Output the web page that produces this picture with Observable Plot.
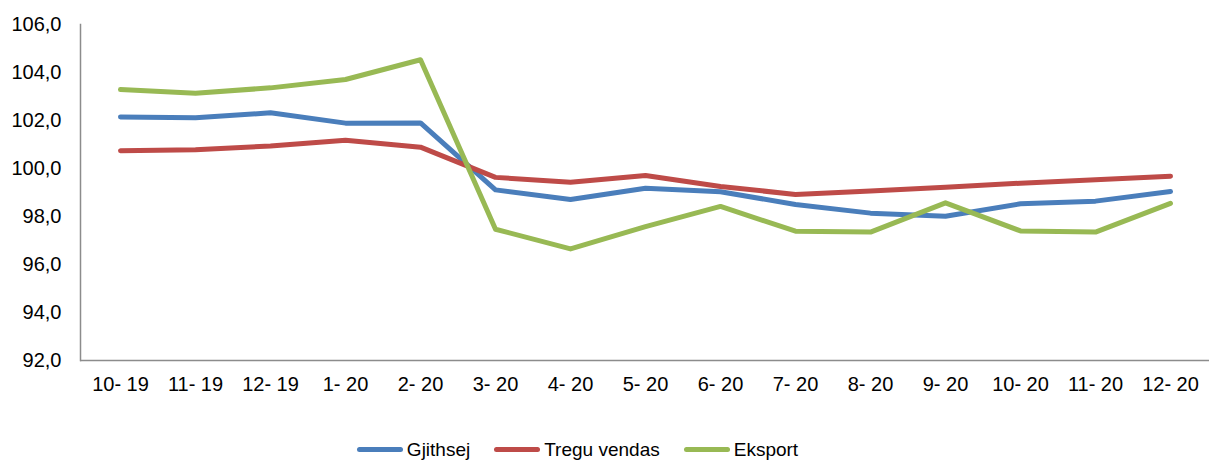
<!DOCTYPE html>
<html>
<head>
<meta charset="utf-8">
<script src="https://cdn.jsdelivr.net/npm/d3@7"></script>
<script src="https://cdn.jsdelivr.net/npm/@observablehq/plot@0.6"></script>
<style>
  html, body { margin: 0; padding: 0; background: #fff; }
  body { width: 1209px; height: 461px; overflow: hidden; font-family: "Liberation Sans", Arial, sans-serif; }
  #legend { display: flex; justify-content: center; align-items: center; height: 31px; margin-top: 4px; font-size: 19px; color: #000; padding-right: 54px; }
  .item { display: flex; align-items: center; margin: 0 12px; }
  .sw { width: 46px; height: 5px; border-radius: 3px; margin-right: 4px; }
</style>
</head>
<body>
<div id="chart"></div>
<div id="legend"></div>
<script>
const categories = ["10- 19","11- 19","12- 19","1- 20","2- 20","3- 20","4- 20","5- 20","6- 20","7- 20","8- 20","9- 20","10- 20","11- 20","12- 20"];
const seriesNames = ["Gjithsej", "Tregu vendas", "Eksport"];
const gjithsej = [102.15,102.11,102.32,101.89,101.90,99.11,98.71,99.18,99.03,98.50,98.14,98.01,98.53,98.64,99.04];
const treguVendas = [100.74,100.78,100.94,101.18,100.89,99.63,99.43,99.71,99.25,98.92,99.06,99.22,99.39,99.53,99.68];
const eksport = [103.29,103.14,103.36,103.71,104.53,97.47,96.65,97.58,98.42,97.39,97.35,98.57,97.40,97.35,98.55];
const yTicks = [92,94,96,98,100,102,104,106];
const colors = ["#4a7ebb", "#be4b48", "#98b954"];

const seriesValues = [gjithsej, treguVendas, eksport];
const data = [];
seriesNames.forEach((s, i) => categories.forEach((c, j) => data.push({series: s, cat: c, value: seriesValues[i][j]})));

const fmt = d => d3.format(".1f")(d).replace(".", ",");

const chart = Plot.plot({
  width: 1209,
  height: 430,
  marginLeft: 80,
  marginRight: 0,
  marginTop: 24,
  marginBottom: 70,
  style: {fontFamily: '"Liberation Sans", Arial, sans-serif', fontSize: "20px", color: "#000", background: "#fff"},
  x: {type: "point", domain: categories, padding: 0.5, label: null},
  y: {domain: [92, 106], ticks: yTicks, label: null},
  color: {domain: seriesNames, range: colors},
  marks: [
    Plot.ruleY([92], {stroke: "#8c8c8c", strokeWidth: 1.5}),
    Plot.frame({anchor: "left", stroke: "#8c8c8c", strokeWidth: 1.5}),
    Plot.axisY({ticks: yTicks, tickFormat: fmt, tickSize: 0, tickPadding: 19, fill: "#000"}),
    Plot.axisX({tickSize: 0, tickPadding: 16, fill: "#000"}),
    Plot.lineY(data, {x: "cat", y: "value", z: "series", stroke: "series", strokeWidth: 5, strokeLinecap: "round", strokeLinejoin: "round"})
  ]
});
document.getElementById("chart").appendChild(chart);

const legend = document.getElementById("legend");
seriesNames.forEach((s, i) => {
  const it = document.createElement("div");
  it.className = "item";
  const sw = document.createElement("span");
  sw.className = "sw";
  sw.style.background = colors[i];
  const t = document.createElement("span");
  t.textContent = s;
  it.appendChild(sw);
  it.appendChild(t);
  legend.appendChild(it);
});
</script>
</body>
</html>
